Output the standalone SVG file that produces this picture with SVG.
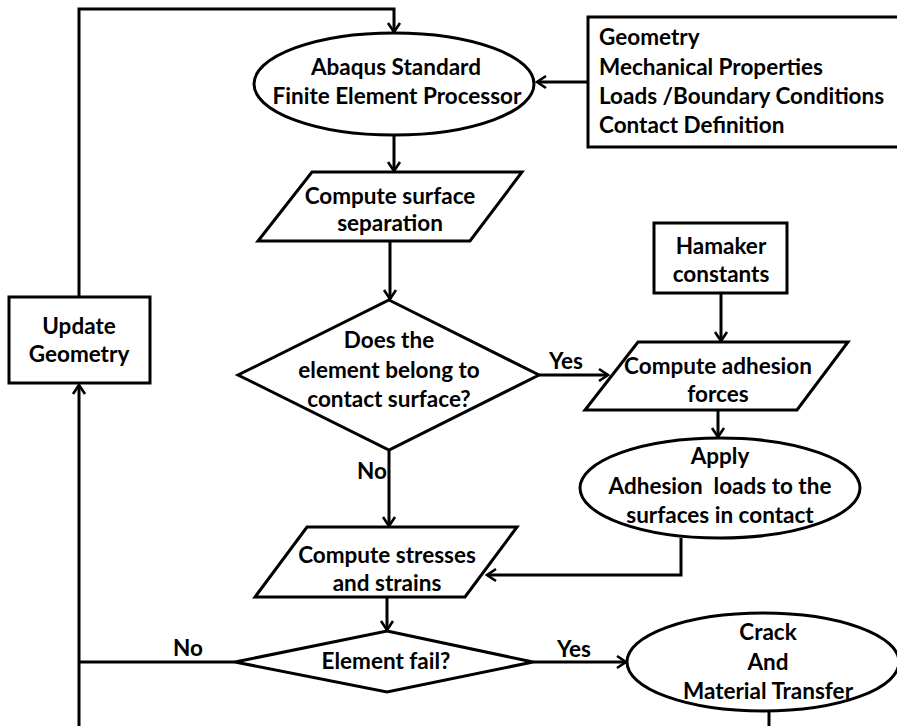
<svg xmlns="http://www.w3.org/2000/svg" width="897" height="726" viewBox="0 0 897 726">
<defs>
<marker id="arr" markerUnits="userSpaceOnUse" markerWidth="16" markerHeight="16" viewBox="0 0 16 16" refX="14" refY="8" orient="auto">
<path d="M5,2 L14,8 L5,14" fill="none" stroke="#000" stroke-width="2.6" stroke-linejoin="miter"/>
</marker>
</defs>
<style>
.s{fill:#fff;stroke:#000;stroke-width:3}
.c{fill:none;stroke:#000;stroke-width:3}
text{font-family:Lato,"Liberation Sans",Arial,sans-serif;font-weight:bold;font-size:22.5px;fill:#000;white-space:pre}
.m{text-anchor:middle}
</style>
<rect width="897" height="726" fill="#fff"/>
<g id="connectors">
<polyline class="c" points="79,383 79,9 394,9 394,32" marker-end="url(#arr)"/>
<line class="c" x1="79" y1="726" x2="79" y2="385" marker-end="url(#arr)"/>
<line class="c" x1="588" y1="82" x2="537" y2="82" marker-end="url(#arr)"/>
<line class="c" x1="394" y1="135" x2="394" y2="171" marker-end="url(#arr)"/>
<line class="c" x1="390" y1="241" x2="390" y2="299" marker-end="url(#arr)"/>
<line class="c" x1="539" y1="375" x2="608" y2="375" marker-end="url(#arr)"/>
<line class="c" x1="721" y1="293" x2="721" y2="341" marker-end="url(#arr)"/>
<line class="c" x1="718" y1="410" x2="718" y2="437" marker-end="url(#arr)"/>
<polyline class="c" points="681,538 681,575 487,575" marker-end="url(#arr)"/>
<line class="c" x1="389" y1="450" x2="389" y2="526" marker-end="url(#arr)"/>
<line class="c" x1="387" y1="597" x2="387" y2="630" marker-end="url(#arr)"/>
<line class="c" x1="235" y1="662" x2="79" y2="662"/>
<line class="c" x1="533" y1="662" x2="626" y2="662" marker-end="url(#arr)"/>
<line class="c" x1="769" y1="711" x2="769" y2="726"/>
<text x="372" y="479" class="m">No</text>
<text x="566" y="369" class="m">Yes</text>
<text x="188" y="656" class="m">No</text>
<text x="574" y="657" class="m">Yes</text>
</g>
<g id="abaqus">
<ellipse class="s" cx="394" cy="84" rx="140" ry="51"/>
<text x="396" y="75" class="m">Abaqus Standard</text>
<text x="397" y="104" class="m">Finite Element Processor</text>
</g>
<g id="inputs">
<rect class="s" x="588" y="17" width="320" height="130"/>
<text x="599" y="45">Geometry</text>
<text x="599" y="75">Mechanical Properties</text>
<text x="599" y="104">Loads /Boundary Conditions</text>
<text x="599" y="133">Contact Definition</text>
</g>
<g id="separation">
<polygon class="s" points="312,172 522,172 470,241 258,241"/>
<text x="390" y="204" class="m">Compute surface</text>
<text x="390" y="231" class="m">separation</text>
</g>
<g id="update">
<rect class="s" x="9" y="297" width="141" height="86"/>
<text x="79" y="334" class="m">Update</text>
<text x="79" y="362" class="m">Geometry</text>
</g>
<g id="decision1">
<polygon class="s" points="389,300 539,375 389,450 238,375"/>
<text x="389" y="348" class="m">Does the</text>
<text x="389" y="378" class="m">element belong to</text>
<text x="389" y="407" class="m">contact surface?</text>
</g>
<g id="hamaker">
<rect class="s" x="654" y="223" width="133" height="70"/>
<text x="721" y="254" class="m">Hamaker</text>
<text x="721" y="282" class="m">constants</text>
</g>
<g id="adhesion">
<polygon class="s" points="638,342 848,342 797,410 585,410"/>
<text x="718" y="374" class="m">Compute adhesion</text>
<text x="718" y="402" class="m">forces</text>
</g>
<g id="apply">
<ellipse class="s" cx="720" cy="488" rx="140" ry="50"/>
<text x="720" y="464" class="m">Apply</text>
<text x="720" y="494" class="m">Adhesion  loads to the</text>
<text x="720" y="523" class="m">surfaces in contact</text>
</g>
<g id="stresses">
<polygon class="s" points="307,527 517,527 465,597 255,597"/>
<text x="387" y="563" class="m">Compute stresses</text>
<text x="387" y="591" class="m">and strains</text>
</g>
<g id="decision2">
<polygon class="s" points="387,631 533,662 387,692 235,662"/>
<text x="386" y="669" class="m">Element fail?</text>
</g>
<g id="crack">
<ellipse class="s" cx="763" cy="662" rx="136" ry="49"/>
<text x="768" y="640" class="m">Crack</text>
<text x="768" y="670" class="m">And</text>
<text x="768" y="699" class="m">Material Transfer</text>
</g>
</svg>
